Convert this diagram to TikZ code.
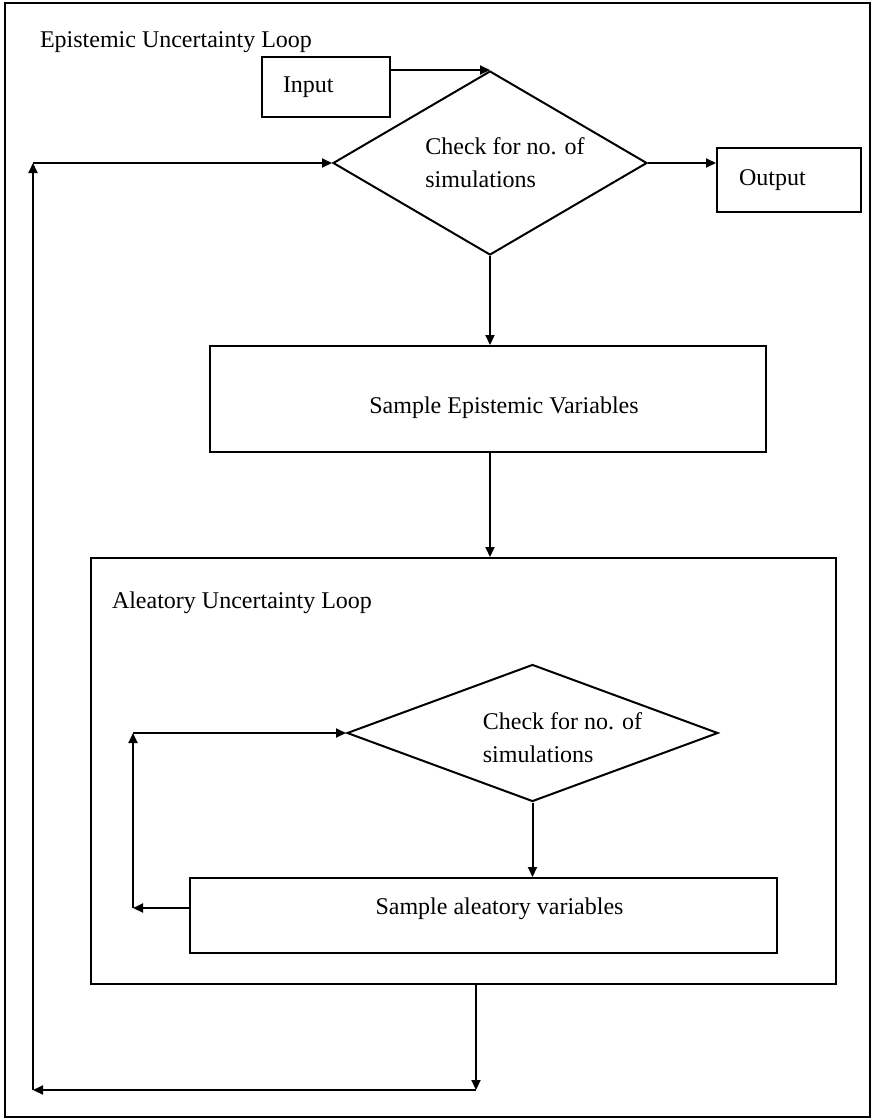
\documentclass[tikz,border=0pt]{standalone}
\usepackage{fontspec}
\setmainfont{Liberation Serif}
\usetikzlibrary{shapes.geometric,arrows.meta}

\begin{document}
\begin{tikzpicture}[x=0.5pt,y=-0.5pt,
    line width=1pt,
    font=\fontsize{12}{16.5}\selectfont,
    box/.style={draw,rectangle,inner sep=0pt},
    check/.style={draw,diamond,inner sep=0pt},
    arr/.style={-{Triangle[length=5pt,width=4.5pt]}}]
    \useasboundingbox (0,0) rectangle (874,1120);
    \draw (5,3) rectangle (870,1117);

    % outer loop
    \node[anchor=west,inner sep=0pt] (EL) at (39,42) {Epistemic Uncertainty Loop};
    \node[box,minimum width=64pt,minimum height=30pt,text width=43pt,align=left] (IN) at (326,87) {Input};
    \node[check,minimum width=157pt,minimum height=92pt,
          label={[align=left,xshift=7.5pt]center:Check for no. of\\simulations}] (C1) at (490,163) {};
    \node[box,minimum width=72pt,minimum height=32pt,text width=50pt,align=left] (OUT) at (789,180) {Output};
    \node[box,minimum width=278pt,minimum height=53pt,
          label={[xshift=8pt,yshift=-4.5pt]center:Sample Epistemic Variables}] (SE) at (488,399) {};

    % inner loop
    \node[box,minimum width=372.5pt,minimum height=213pt] (AL) at (463.5,771) {};
    \node[anchor=west,inner sep=0pt] (AT) at (111,603) {Aleatory Uncertainty Loop};
    \node[check,minimum width=185.5pt,minimum height=68.5pt,
          label={[align=left,xshift=15pt,yshift=-2.5pt]center:Check for no. of\\simulations}] (C2) at (532.5,733) {};
    \node[box,minimum width=293.5pt,minimum height=37.5pt,
          label={[xshift=8pt,yshift=3.5pt]center:Sample aleatory variables}] (SA) at (483.5,915.5) {};

    \coordinate (A1) at (133,908);
    \coordinate (A2) at (A1 |- C2.west);
    \coordinate (B1) at (476,1090);
    \coordinate (B2) at (33,1090);
    \coordinate (B3) at (B2 |- C1.west);

    \draw[arr] (IN.east |- C1.north) -- (C1.north);
    \draw[arr] (C1.east) -- (C1.east -| OUT.west);
    \draw[arr] (C1.south) -- (C1.south |- SE.north);
    \draw[arr] (C1.south |- SE.south) -- (C1.south |- AL.north);
    \draw[arr] (C2.south) -- (C2.south |- SA.north);

    \draw[arr] (SA.west |- A1) -- (A1);
    \draw[arr] (A1) -- (A2);
    \draw[arr] (A2) -- (C2.west);

    \draw[arr] (AL.south -| B1) -- (B1);
    \draw[arr] (B1) -- (B2);
    \draw[arr] (B2) -- (B3);
    \draw[arr] (B3) -- (C1.west);
\end{tikzpicture}
\end{document}
